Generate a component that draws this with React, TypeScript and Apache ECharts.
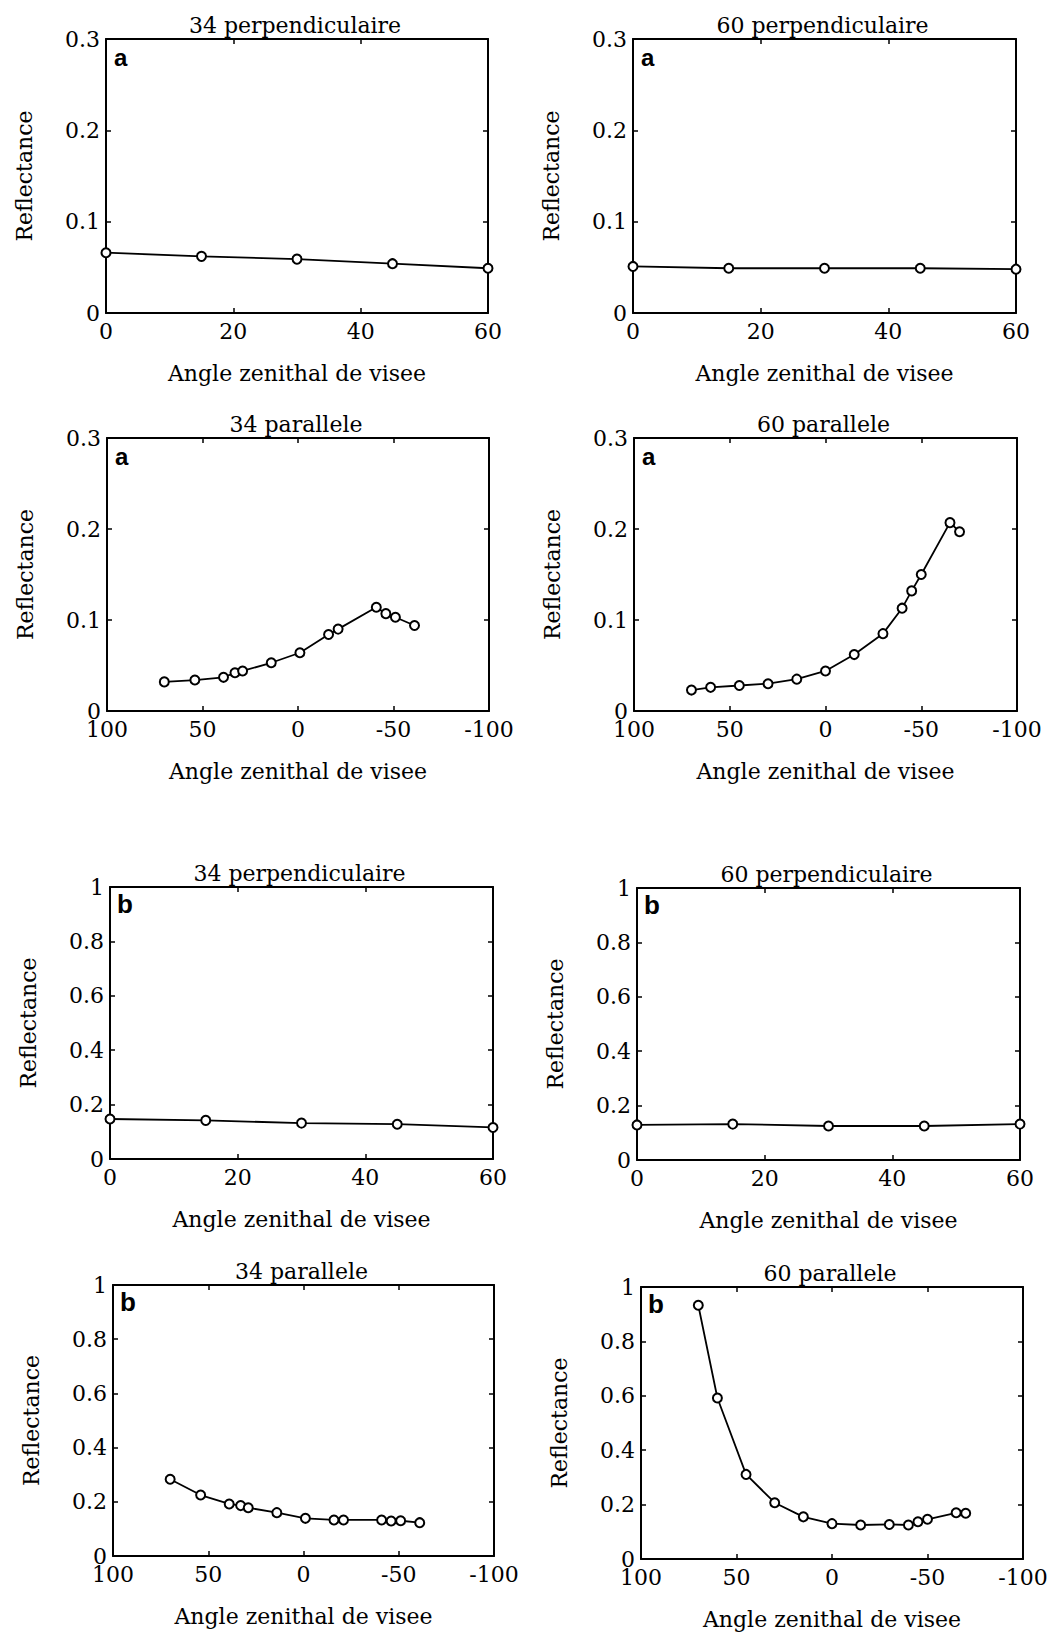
import React, { useEffect, useRef } from "react";
import * as echarts from "echarts";

// ---- data ----
const perpAngles = [0, 15, 30, 45, 60];
const a34Perp = [0.066, 0.062, 0.059, 0.054, 0.049];
const a60Perp = [0.051, 0.049, 0.049, 0.049, 0.048];
const b34Perp = [0.147, 0.142, 0.132, 0.128, 0.116];
const b60Perp = [0.129, 0.132, 0.125, 0.125, 0.132];

const par34Angles = [70, 54, 39, 33, 29, 14, -1, -16, -21, -41, -46, -51, -61];
const a34Par = [0.032, 0.034, 0.037, 0.042, 0.044, 0.053, 0.064, 0.084, 0.09, 0.114, 0.107, 0.103, 0.094];
const b34Par = [0.283, 0.225, 0.192, 0.186, 0.178, 0.16, 0.139, 0.133, 0.133, 0.133, 0.129, 0.13, 0.123];

const par60Angles = [70, 60, 45, 30, 15, 0, -15, -30, -40, -45, -50, -65, -70];
const a60Par = [0.023, 0.026, 0.028, 0.03, 0.035, 0.044, 0.062, 0.085, 0.113, 0.132, 0.15, 0.207, 0.197];
const b60Par = [0.933, 0.592, 0.311, 0.207, 0.155, 0.13, 0.125, 0.127, 0.125, 0.137, 0.146, 0.17, 0.168];

const titles = [
  "34 perpendiculaire", "60 perpendiculaire",
  "34 parallele", "60 parallele",
  "34 perpendiculaire", "60 perpendiculaire",
  "34 parallele", "60 parallele",
];
const letters = ["a", "a", "a", "a", "b", "b", "b", "b"];
const xLabel = "Angle zenithal de visee";
const yLabel = "Reflectance";

// ---- layout (positions/styles) ----
const panels = [
  { left: 106, top: 39, w: 382, h: 274 },
  { left: 633, top: 39, w: 383, h: 274 },
  { left: 107, top: 438, w: 382, h: 273 },
  { left: 634, top: 438, w: 383, h: 273 },
  { left: 110, top: 887, w: 383, h: 272 },
  { left: 637, top: 888, w: 383, h: 272 },
  { left: 113, top: 1285, w: 381, h: 271 },
  { left: 641, top: 1287, w: 382, h: 272 },
];

const SERIF = "DejaVu Serif";
const FS = 22;

export default function App() {
  const ref = useRef<HTMLDivElement>(null);
  useEffect(() => {
    document.body.style.margin = "0";
    const chart = echarts.init(ref.current!, null, { renderer: "svg" });

    const series: any[] = [];
    const xAxes: any[] = [];
    const yAxes: any[] = [];
    const grids: any[] = [];
    const graphics: any[] = [];

    const panelData = [
      { xs: perpAngles, ys: a34Perp, par: false, ymax: 0.3, yint: 0.1 },
      { xs: perpAngles, ys: a60Perp, par: false, ymax: 0.3, yint: 0.1 },
      { xs: par34Angles, ys: a34Par, par: true, ymax: 0.3, yint: 0.1 },
      { xs: par60Angles, ys: a60Par, par: true, ymax: 0.3, yint: 0.1 },
      { xs: perpAngles, ys: b34Perp, par: false, ymax: 1, yint: 0.2 },
      { xs: perpAngles, ys: b60Perp, par: false, ymax: 1, yint: 0.2 },
      { xs: par34Angles, ys: b34Par, par: true, ymax: 1, yint: 0.2 },
      { xs: par60Angles, ys: b60Par, par: true, ymax: 1, yint: 0.2 },
    ];

    const frameStyle = { color: "#000", width: 2 };
    const seriesLine = { color: "#000", width: 1.8 };
    const tickStyle = { show: true, inside: true, length: 5, lineStyle: { color: "#000", width: 1.5 } };
    const labelStyle = { color: "#000", fontFamily: SERIF, fontSize: FS };

    panelData.forEach((p, i) => {
      const L = panels[i];
      grids.push({ left: L.left, top: L.top, width: L.w, height: L.h, containLabel: false });
      const xmin = p.par ? -100 : 0;
      const xmax = p.par ? 100 : 60;
      const xint = p.par ? 50 : 20;
      const common = {
        type: "value",
        gridIndex: i,
        min: xmin,
        max: xmax,
        interval: xint,
        inverse: p.par,
        axisLine: { show: true, onZero: false, lineStyle: frameStyle },
        axisTick: tickStyle,
        splitLine: { show: false },
      };
      xAxes.push({
        ...common,
        position: "bottom",
        axisLabel: { ...labelStyle, lineHeight: 15, margin: 11 },
        name: xLabel,
        nameLocation: "middle",
        nameGap: 49,
        nameTextStyle: { ...labelStyle },
      });
      xAxes.push({ ...common, position: "top", axisLabel: { show: false } });
      const ycommon = {
        type: "value",
        gridIndex: i,
        min: 0,
        max: p.ymax,
        interval: p.yint,
        axisLine: { show: true, onZero: false, lineStyle: frameStyle },
        axisTick: tickStyle,
        splitLine: { show: false },
      };
      yAxes.push({
        ...ycommon,
        position: "left",
        axisLabel: { ...labelStyle, lineHeight: 15, margin: 6 },
        name: yLabel,
        nameLocation: "middle",
        nameGap: 71,
        nameRotate: 90,
        nameTextStyle: { ...labelStyle },
      });
      yAxes.push({ ...ycommon, position: "right", axisLabel: { show: false } });

      series.push({
        type: "line",
        xAxisIndex: i * 2,
        yAxisIndex: i * 2,
        data: p.xs.map((x, k) => [x, p.ys[k]]),
        symbol: "emptyCircle",
        symbolSize: 9,
        showAllSymbol: true,
        lineStyle: seriesLine,
        itemStyle: { color: "#000", borderColor: "#000", borderWidth: 1.6 },
        z: 3,
      });

      graphics.push({
        type: "text",
        x: L.left + L.w / 2 - 2,
        y: L.top - 14,
        style: {
          text: titles[i],
          font: `${FS}px "${SERIF}"`,
          fill: "#000",
          textAlign: "center",
          textVerticalAlign: "middle",
        },
      });
      const isA = letters[i] === "a";
      graphics.push({
        type: "text",
        x: L.left + (isA ? 8 : 7),
        y: L.top + (isA ? 18 : 17),
        style: {
          text: letters[i],
          font: `bold ${isA ? 24 : 26}px "Liberation Sans"`,
          fill: "#000",
          textAlign: "left",
          textVerticalAlign: "middle",
        },
      });
    });

    chart.setOption({
      animation: false,
      backgroundColor: "#fff",
      grid: grids,
      xAxis: xAxes,
      yAxis: yAxes,
      series,
      graphic: graphics,
    });
    return () => chart.dispose();
  }, []);
  return <div ref={ref} style={{ width: 1057, height: 1633, background: "#fff" }} />;
}
